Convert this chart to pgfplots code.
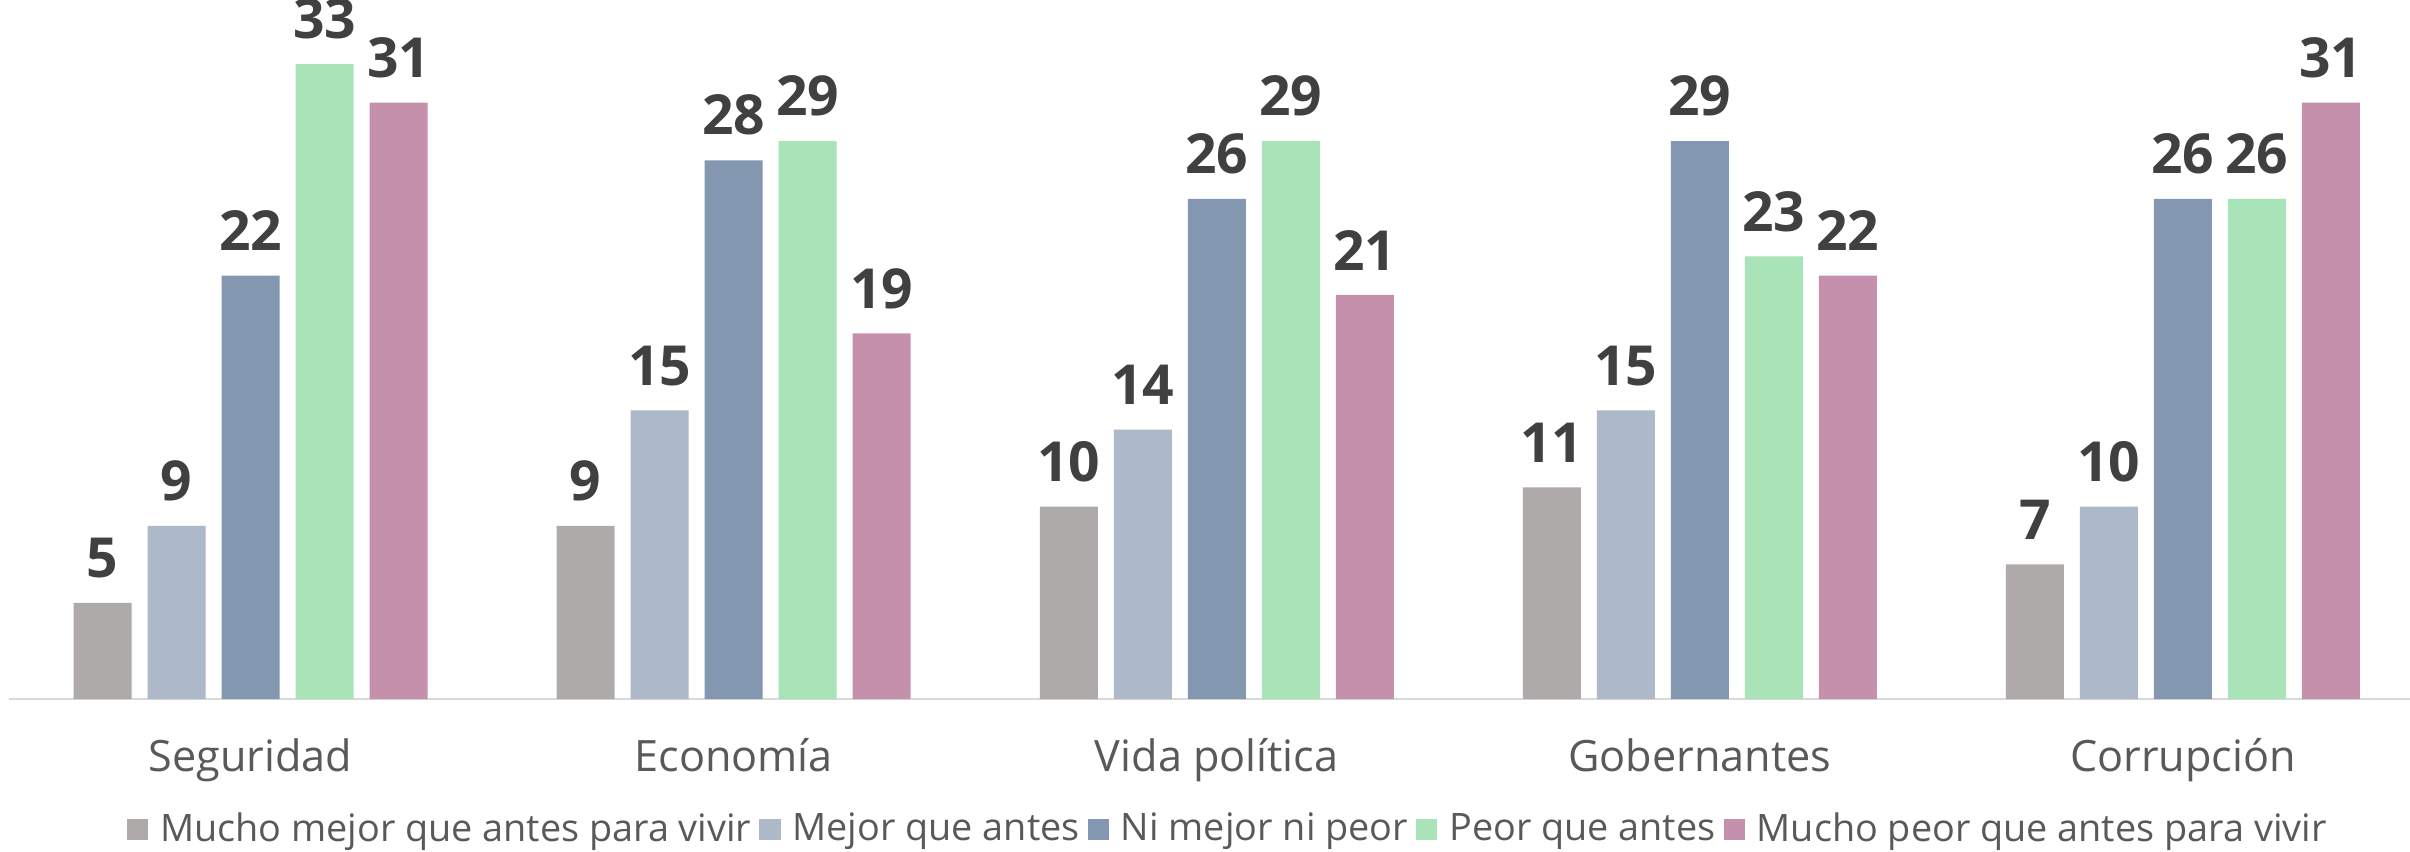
\documentclass[border=0pt]{standalone}
\usepackage{pgfplots}
\pgfplotsset{compat=1.18}
\usepackage{fontspec}
\setmainfont{Open Sans}
\definecolor{cA}{RGB}{174,170,169}
\definecolor{cB}{RGB}{173,184,201}
\definecolor{cC}{RGB}{132,151,176}
\definecolor{cD}{RGB}{168,228,184}
\definecolor{cE}{RGB}{196,144,172}
\definecolor{lbl}{RGB}{64,64,64}
\definecolor{txt}{RGB}{89,89,89}
\definecolor{axl}{RGB}{217,217,217}
\begin{document}
\begin{tikzpicture}
\begin{axis}[
  scale only axis,
  width=600.25pt, height=174.75pt,
  xmin=-0.5, xmax=4.47,
  ymin=0, ymax=36.33,
  ybar=4pt,
  bar width=14.5pt,
  axis x line=bottom,
  axis y line=none,
  x axis line style={draw=axl, line width=0.5pt, -},
  xtick={0,1,2,3,4},
  xticklabels={Seguridad,Economía,Vida política,Gobernantes,Corrupción},
  major tick length=0pt,
  xtick style={draw=none},
  xticklabel style={font=\fontsize{10.8}{13}\selectfont, text=txt, anchor=base, inner sep=0pt, yshift=-18.2pt},
  ytick=\empty,
  clip=false,
  /pgf/number format/assume math mode=true,
  nodes near coords,
  every node near coord/.append style={font=\fontsize{13.8}{15}\selectfont\bfseries, text=lbl, anchor=south, inner sep=0pt, yshift=6pt},
  legend columns=5,
  legend image code/.code={\fill[#1] (0pt,-2.65pt) rectangle (5.3pt,2.65pt);},
  legend style={draw=none, fill=none, at={(0.508,-0.187)}, anchor=center,
    font=\fontsize{9.45}{11}\selectfont, text=txt,
    /tikz/every even column/.append style={column sep=1pt},
    /tikz/every odd column/.append style={column sep=2pt},
    nodes={inner sep=1pt}},
]
\addplot[fill=cA, draw=none] coordinates {(0,5) (1,9) (2,10) (3,11) (4,7)};
\addplot[fill=cB, draw=none] coordinates {(0,9) (1,15) (2,14) (3,15) (4,10)};
\addplot[fill=cC, draw=none] coordinates {(0,22) (1,28) (2,26) (3,29) (4,26)};
\addplot[fill=cD, draw=none] coordinates {(0,33) (1,29) (2,29) (3,23) (4,26)};
\addplot[fill=cE, draw=none] coordinates {(0,31) (1,19) (2,21) (3,22) (4,31)};
\legend{Mucho mejor que antes para vivir, Mejor que antes, Ni mejor ni peor, Peor que antes, Mucho peor que antes para vivir}
\end{axis}
\pgfresetboundingbox
\path (-2.25pt,-38pt) rectangle (600.25pt,174.75pt);
\end{tikzpicture}
\end{document}
